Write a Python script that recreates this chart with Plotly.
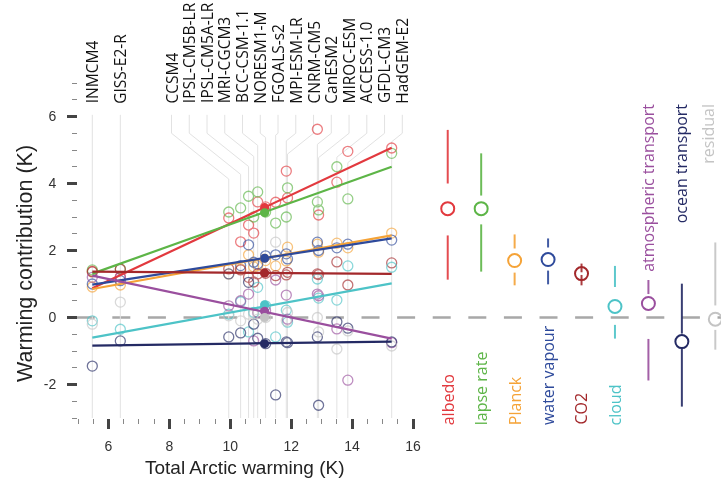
import plotly.graph_objects as go

# ---------------- data ----------------
models = ["INMCM4", "GISS-E2-R", "CCSM4", "IPSL-CM5B-LR", "IPSL-CM5A-LR", "MRI-CGCM3",
          "BCC-CSM-1.1", "NORESM1-M", "FGOALS-s2", "MPI-ESM-LR", "CNRM-CM5", "CanESM2",
          "MIROC-ESM", "ACCESS-1.0", "GFDL-CM3", "HadGEM-E2"]
total_warming = [5.47, 6.39, 9.95, 10.34, 10.6, 10.77, 10.9, 11.16, 11.49, 11.84, 11.88,
                 12.86, 12.9, 13.5, 13.86, 15.3]

components = ["albedo", "lapse rate", "Planck", "water vapour", "CO2", "cloud",
              "atmospheric transport", "ocean transport", "residual"]

albedo = [1.38, 1.22, 2.97, 2.26, 2.76, 2.52, 3.45, 3.3, 3.44, 4.37, 3.57, 5.62, 3.06, 4.04, 4.96, 5.06]
lapse_rate = [1.42, 1.45, 3.15, 3.27, 3.62, 3.0, 3.75, 3.15, 2.82, 3.0, 3.87, 3.45, 3.21, 4.5, 3.54, 4.9]
planck = [0.91, 0.97, 1.3, 1.45, 1.87, 1.51, 1.55, 1.7, 1.54, 1.69, 2.1, 2.19, 1.95, 2.22, 2.08, 2.52]
water_vapour = [1.0, 1.1, 1.3, 1.55, 2.17, 1.65, 1.6, 1.84, 1.87, 1.9, 1.75, 2.25, 2.0, 2.08, 2.19, 2.31]
co2 = [1.36, 1.44, 1.45, 1.42, 1.2, 1.06, 1.3, 1.32, 1.25, 1.27, 1.35, 1.3, 1.28, 1.66, 0.97, 1.63]
cloud = [-0.1, -0.35, 0.1, 0.47, -0.43, 0.15, 0.9, 0.35, -0.58, 0.22, -0.14, 1.15, 0.58, 0.52, 1.54, 1.5]
atm_transport = [1.2, 1.2, 0.35, 0.5, 0.7, -0.7, 0.15, 0.2, 1.12, 0.67, -0.05, 0.7, 0.65, -0.34, -1.87, -0.75]
ocean_transport = [-1.45, -0.7, -0.58, -0.46, 1.05, -0.2, -0.62, -0.78, -2.31, -0.73, -0.75, -0.58, -2.62, -0.13, -0.32, -0.73]
residual = [-0.2, 0.46, 0.05, -0.1, 0.1, 0.1, -0.05, 0.0, 2.25, -0.1, 0.15, 0.0, -0.43, -0.94, -0.4, -0.85]

series = [albedo, lapse_rate, planck, water_vapour, co2, cloud, atm_transport, ocean_transport, residual]

# regression-line end values (at the lowest and highest model warming) and ensemble-mean points
fit_start = [0.87, 1.31, 0.85, 0.98, 1.37, -0.6, 1.25, -0.84, None]
fit_end = [5.07, 4.5, 2.45, 2.36, 1.3, 1.02, -0.63, -0.72, None]
mean_warming = 11.13
mean_values = [3.28, 3.13, 1.77, 1.77, 1.33, 0.38, 0.19, -0.78, 0.0]

# summary panel: median, min, lower quartile, upper quartile, max
summ_med = [3.25, 3.25, 1.70, 1.73, 1.31, 0.33, 0.42, -0.72, -0.05]
summ_min = [1.13, 1.37, 0.96, 0.99, 0.96, -0.63, -1.88, -2.66, -0.96]
summ_q1 = [2.45, 2.78, 1.34, 1.40, 1.27, -0.22, -0.64, -0.90, -0.37]
summ_q3 = [4.00, 3.64, 2.06, 2.09, 1.35, 0.91, 0.70, -0.48, 0.36]
summ_max = [5.60, 4.90, 2.48, 2.36, 1.61, 1.54, 1.12, 1.01, 2.24]

colors = ["#e2393e", "#5db547", "#f5a337", "#2e4a9b", "#a3282b", "#4dc3c7",
          "#9a4f9e", "#242a64", "#c4c4c4"]

# ---------------- figure ----------------
fig = go.Figure()

# model guide lines (label -> vertical line at the model's warming)
PX_X, PX_Y = 30.45, 33.5
label_x = []
for i, w in enumerate(total_warming):
    if i < 2:
        label_x.append(w)
    else:
        label_x.append(8.07 + (i - 2) * 0.583)
gx, gy = [], []
for lx, w in zip(label_x, total_warming):
    if abs(lx - w) < 1e-6:
        gx += [w, w, None]
        gy += [6.05, -3, None]
    else:
        y2 = 5.5 - abs(w - lx) * PX_X * 0.8 / PX_Y
        gx += [lx, lx, w, w, None]
        gy += [6.05, 5.5, y2, -3, None]
fig.add_trace(go.Scatter(x=gx, y=gy, mode="lines", xaxis="x", yaxis="y",
                         line=dict(color="#e2e2e2", width=1), hoverinfo="skip", showlegend=False))

# model circles
for vals, c in zip(series, colors):
    fig.add_trace(go.Scatter(x=total_warming, y=vals, mode="markers", xaxis="x", yaxis="y",
                             marker=dict(symbol="circle-open", size=10, color=c,
                                         line=dict(width=1.3, color=c)),
                             opacity=0.65, showlegend=False))

# regression lines
for s, e, c in zip(fit_start, fit_end, colors):
    if s is None:
        continue
    fig.add_trace(go.Scatter(x=[total_warming[0], total_warming[-1]], y=[s, e], mode="lines",
                             xaxis="x", yaxis="y", line=dict(color=c, width=2.2), showlegend=False))

# ensemble means
for m, c in zip(mean_values, colors):
    fig.add_trace(go.Scatter(x=[mean_warming], y=[m], mode="markers", xaxis="x", yaxis="y",
                             marker=dict(symbol="circle", size=9, color=c), showlegend=False))

# summary panel
for i, c in enumerate(colors):
    fig.add_trace(go.Scatter(x=[i, i, None, i, i],
                             y=[summ_min[i], summ_q1[i], None, summ_q3[i], summ_max[i]],
                             mode="lines", xaxis="x2", yaxis="y",
                             line=dict(color=c, width=2), opacity=0.9, showlegend=False))
    fig.add_trace(go.Scatter(x=[i], y=[summ_med[i]], mode="markers", xaxis="x2", yaxis="y",
                             marker=dict(symbol="circle-open", size=13, color=c,
                                         line=dict(width=2, color=c)), showlegend=False))

annotations = []
# model labels
for name, lx in zip(models, label_x):
    annotations.append(dict(x=lx, y=6.33, xref="x", yref="y", text=name, showarrow=False,
                            textangle=-90, xanchor="center", yanchor="bottom",
                            font=dict(family="Open Sans", size=15.5, color="#111111")))
# component labels
for i, (name, c) in enumerate(zip(components, colors)):
    if i < 6:
        annotations.append(dict(x=i, y=-0.027, xref="x2", yref="paper", text=name, showarrow=False,
                                textangle=-90, xanchor="center", yanchor="bottom",
                                font=dict(family="Open Sans", size=16, color=c)))
    else:
        annotations.append(dict(x=i, y=6.45, xref="x2", yref="y", text=name, showarrow=False,
                                textangle=-90, xanchor="center", yanchor="top",
                                xshift=-7 if i == 8 else 0,
                                font=dict(family="Open Sans", size=16, color=c)))
# axis titles
annotations.append(dict(x=0.26, y=-0.149, xref="paper", yref="paper",
                        text="Total Arctic warming (K)", showarrow=False,
                        xanchor="center", yanchor="middle",
                        font=dict(family="Liberation Sans", size=19, color="#222222")))
annotations.append(dict(x=-0.0824, y=0.46, xref="paper", yref="paper",
                        text="Warming contribution (K)", showarrow=False, textangle=-90,
                        xanchor="center", yanchor="middle",
                        font=dict(family="Liberation Sans", size=21.5, color="#222222")))

fig.update_layout(
    width=721, height=481, autosize=False,
    margin=dict(l=78, r=0, t=83, b=63, pad=0, autoexpand=False),
    paper_bgcolor="white", plot_bgcolor="white",
    showlegend=False,
    xaxis=dict(domain=[0, 0.521], range=[5, 16], showgrid=False, zeroline=False, showline=False,
               automargin=False,
               tickmode="array", tickvals=[6, 8, 10, 12, 14, 16],
               ticktext=["6", "8", "10", "12", "14", "16"],
               ticks="outside", ticklen=10, tickwidth=2.5, tickcolor="#444444",
               ticklabelstandoff=5,
               tickfont=dict(family="Liberation Sans", size=14, color="#333333"),
               minor=dict(tickmode="linear", tick0=5, dtick=0.5, ticks="outside", ticklen=5,
                          tickwidth=1, tickcolor="#888888", showgrid=False)),
    xaxis2=dict(domain=[0.549, 1], range=[-0.5, 8.17], visible=False, anchor="y", automargin=False),
    yaxis=dict(range=[-3, 7], showgrid=False, zeroline=False, showline=False, automargin=False,
               tickmode="array", tickvals=[-2, 0, 2, 4, 6], ticktext=["-2", "0", "2", "4", "6"],
               ticks="outside", ticklen=10, tickwidth=2.5, tickcolor="#444444",
               ticklabelstandoff=8,
               tickfont=dict(family="Liberation Sans", size=14, color="#333333"),
               minor=dict(tickmode="linear", tick0=-3, dtick=0.5, ticks="outside", ticklen=5,
                          tickwidth=1, tickcolor="#888888", showgrid=False)),
    shapes=[dict(type="line", xref="paper", yref="y", x0=-0.002, x1=1, y0=0, y1=0,
                 line=dict(color="#a8a8a8", width=2.5, dash="18px,17.6px"), layer="below")],
    annotations=annotations,
)

fig.write_html(
    "out.html",
    config={"displayModeBar": False, "responsive": False},
    post_script="document.body.style.margin='0';document.body.style.overflow='hidden';",
)
